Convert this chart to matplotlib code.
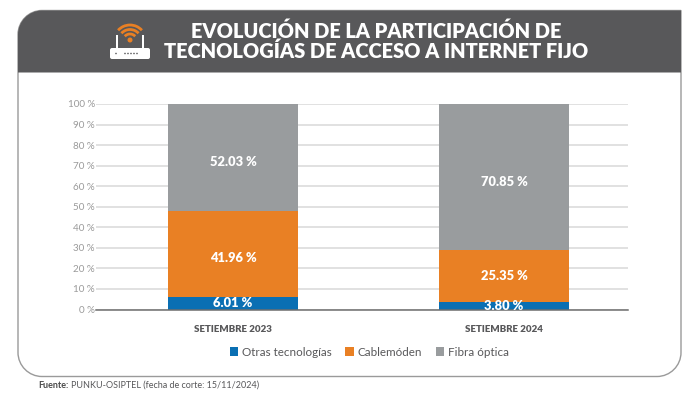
import matplotlib
matplotlib.use("Agg")
import matplotlib.pyplot as plt
from matplotlib.patches import PathPatch, Rectangle, FancyBboxPatch, Arc, Circle
from matplotlib.path import Path

plt.rcParams['font.family'] = ['Lato', 'DejaVu Sans']

# datos
periodos = ['SETIEMBRE 2023', 'SETIEMBRE 2024']
otras = [6.01, 3.80]
cable = [41.96, 25.35]
fibra = [52.03, 70.85]
etiquetas_otras = ['6.01 %', '3.80 %']
etiquetas_cable = ['41.96 %', '25.35 %']
etiquetas_fibra = ['52.03 %', '70.85 %']
ticks = list(range(0, 101, 10))
leyenda = ['Otras tecnologías', 'Cablemóden', 'Fibra óptica']
colores = ['#0a6fb3', '#e98024', '#999c9e']
titulo = ['EVOLUCIÓN DE LA PARTICIPACIÓN DE', 'TECNOLOGÍAS DE ACCESO A INTERNET FIJO']
fuente_a = 'Fuente:'
fuente_b = 'PUNKU-OSIPTEL (fecha de corte: 15/11/2024)'

W, H = 700, 395
fig = plt.figure(figsize=(W / 100, H / 100), dpi=100, facecolor='white')

# capa de fondo en pixeles
bg = fig.add_axes([0, 0, 1, 1], zorder=0)
bg.set_xlim(0, W)
bg.set_ylim(H, 0)
bg.axis('off')

L, R, T, B, HB = 18, 681, 10.5, 376.5, 72.5
r = 24
k = 0.45 * r
card = Path(
    [(L + r, T), (R, T), (R, B - r), (R, B - k), (R - k, B), (R - r, B), (L + r, B),
     (L + k, B), (L, B - k), (L, B - r), (L, T + r), (L, T + k), (L + k, T), (L + r, T)],
    [Path.MOVETO, Path.LINETO, Path.LINETO, Path.CURVE4, Path.CURVE4, Path.CURVE4, Path.LINETO,
     Path.CURVE4, Path.CURVE4, Path.CURVE4, Path.LINETO, Path.CURVE4, Path.CURVE4, Path.CURVE4])
bg.add_patch(PathPatch(card, fc='white', ec='#9a9a9a', lw=1.0))
head = Path(
    [(L, HB), (L, T + r), (L, T + k), (L + k, T), (L + r, T), (R, T), (R, HB), (L, HB)],
    [Path.MOVETO, Path.LINETO, Path.CURVE4, Path.CURVE4, Path.CURVE4, Path.LINETO, Path.LINETO, Path.CLOSEPOLY])
bg.add_patch(PathPatch(head, fc='#58585a', ec='none'))

# icono del router
bg.add_patch(FancyBboxPatch((110, 48), 40, 11, boxstyle='round,pad=0,rounding_size=2', fc='white', ec='none'))
bg.add_patch(Rectangle((116.2, 35), 1.6, 14, fc='white', ec='none'))
bg.add_patch(Rectangle((142.2, 35), 1.6, 14, fc='white', ec='none'))
for x_led in [116, 125, 128, 131, 134, 137]:
    bg.add_patch(Circle((x_led, 53.5), 0.8, fc='#58585a', ec='none'))
bg.add_patch(Circle((130, 40), 2.5, fc='#e98024', ec='none'))
for d in [14, 23, 32]:
    bg.add_patch(Arc((130, 41), d, d, theta1=222, theta2=318, ec='#e98024', lw=2.0))

for y_t, linea in zip([31.5, 51], titulo):
    bg.text(376, y_t, linea, color='white', fontsize=14.4, fontweight='heavy', ha='center', va='center')

bg.text(38, 385.5, fuente_a, color='#4a4a4a', fontsize=6.5, fontweight='bold', ha='left', va='center')
bg.text(71, 385.5, fuente_b, color='#58585a', fontsize=6.5, ha='left', va='center')

# grafico
ax = fig.add_axes([96 / W, 1 - 309.5 / H, (628 - 96) / W, (309.5 - 104) / H], zorder=1)
ax.patch.set_alpha(0)
x = [0, 1]
ancho = 0.48
base2 = [a + b for a, b in zip(otras, cable)]
ax.bar(x, otras, ancho, color=colores[0], label=leyenda[0], zorder=3)
ax.bar(x, cable, ancho, bottom=otras, color=colores[1], label=leyenda[1], zorder=3)
ax.bar(x, fibra, ancho, bottom=base2, color=colores[2], label=leyenda[2], zorder=3)

ax.set_xlim(-137 / 271, 395 / 271)
ax.set_ylim(0, 100)
ax.set_yticks(ticks)
ax.set_yticklabels([f'{t} %' for t in ticks], color='#9a9a9a', fontsize=7.1)
ax.set_xticks(x)
ax.set_xticklabels(periodos, color='#58585a', fontsize=7, fontweight='heavy')
ax.tick_params(axis='both', length=0)
ax.tick_params(axis='y', pad=0.8)
ax.tick_params(axis='x', pad=11)
ax.grid(axis='y', color='#d9d9d9', lw=1.1, zorder=0)
for s in ['top', 'left', 'right']:
    ax.spines[s].set_visible(False)
ax.spines['bottom'].set_color('#6e6e6e')
ax.spines['bottom'].set_linewidth(1.1)
ax.spines['bottom'].set_zorder(4)

# etiquetas, con un pequeno desplazamiento en puntos
def etiqueta(i, y, texto, dy):
    ax.annotate(texto, (i, y), xytext=(0, dy), textcoords='offset points', color='white', fontsize=9.3,
                fontweight='heavy', ha='center', va='center', zorder=5)

for i in x:
    etiqueta(i, otras[i] / 2, etiquetas_otras[i], 0)
    etiqueta(i, otras[i] + cable[i] / 2, etiquetas_cable[i], -2.5 if i == 0 else 0)
    etiqueta(i, base2[i] + fibra[i] / 2, etiquetas_fibra[i], -3.5)

h, l = ax.get_legend_handles_labels()
fig.legend(h, l, ncol=3, frameon=False, loc='center', bbox_to_anchor=(369.5 / W, 1 - 352 / H),
           fontsize=8.4, labelcolor='#58585a', handlelength=0.72, handleheight=0.72,
           handletextpad=0.35, columnspacing=1.15, borderpad=0)

plt.savefig('out.png', dpi=100)
